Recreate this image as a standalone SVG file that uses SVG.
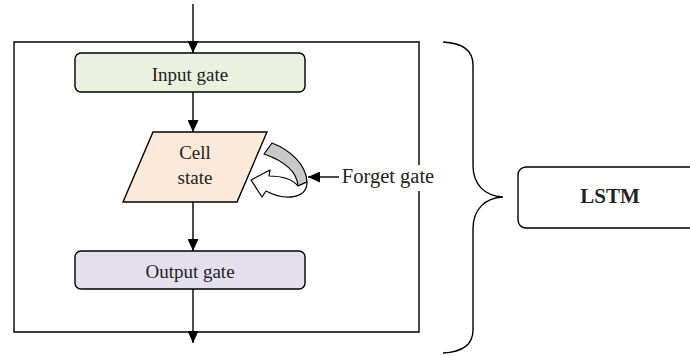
<svg xmlns="http://www.w3.org/2000/svg" width="690" height="356" viewBox="0 0 690 356">
<style>
.ln{fill:none;stroke:#000;stroke-width:1.4}
.box{stroke:#000;stroke-width:1.4}
.t{font-family:"Liberation Serif","Times New Roman",serif;font-size:19px;fill:#222;text-anchor:middle}
</style>
<defs>
<marker id="ah" markerUnits="userSpaceOnUse" markerWidth="12" markerHeight="11" refX="12" refY="5.5" orient="auto">
<path d="M0,0 L12,5.5 L0,11 Z" fill="#000"/>
</marker>
</defs>
<rect width="690" height="356" fill="#fff"/>
<g id="frame">
<path class="ln" d="M419,165 V42 H14 V332 H419 V191"/>
</g>
<g id="input-gate">
<rect class="box" x="75" y="53" width="230" height="39" rx="6" fill="#EBF1DE"/>
<text class="t" x="190" y="81">Input gate</text>
</g>
<g id="cell-state">
<path class="box" d="M153,132 H267 L237,202 H123 Z" fill="#FDE9D9"/>
<text class="t" x="195" y="159">Cell</text>
<text class="t" x="195" y="184">state</text>
</g>
<g id="output-gate">
<rect class="box" x="75" y="251" width="230" height="38" rx="6" fill="#E4DFEC"/>
<text class="t" x="190" y="278">Output gate</text>
</g>
<g id="forget-loop">
<path d="M272,143 C290,150 306,164 307,182 L298,186 C297,172 284,161 264,154 Z" fill="#C8C8C8" stroke="#000" stroke-width="1.2" stroke-linejoin="round"/>
<path d="M307,182 C307,199 285,201 266,191 L262,197 L251,180 L270,170 L269,176 C283,176 293,180 298,186 Z" fill="#fff" stroke="#000" stroke-width="1.2" stroke-linejoin="round"/>
</g>
<g id="forget-gate-label">
<text class="t" x="388" y="183" style="font-size:20.5px">Forget gate</text>
</g>
<g id="brace">
<path class="ln" d="M443,42 C463,43 473,50 473,65 L473,165 C473,185 485,196 503,197 C485,198 473,209 473,229 L473,330 C473,345 463,352 443,353"/>
</g>
<g id="lstm">
<rect class="box" x="518" y="167" width="190" height="61" rx="8" fill="#fff"/>
<text class="t" x="610" y="203" style="font-size:21px;font-weight:bold">LSTM</text>
</g>
<g id="connectors">
<line class="ln" x1="193" y1="4" x2="193" y2="53" marker-end="url(#ah)"/>
<line class="ln" x1="193" y1="92" x2="193" y2="132" marker-end="url(#ah)"/>
<line class="ln" x1="193" y1="202" x2="193" y2="251" marker-end="url(#ah)"/>
<line class="ln" x1="193" y1="289" x2="193" y2="343" marker-end="url(#ah)"/>
<line class="ln" x1="339" y1="177" x2="308" y2="177" marker-end="url(#ah)"/>
</g>
</svg>
